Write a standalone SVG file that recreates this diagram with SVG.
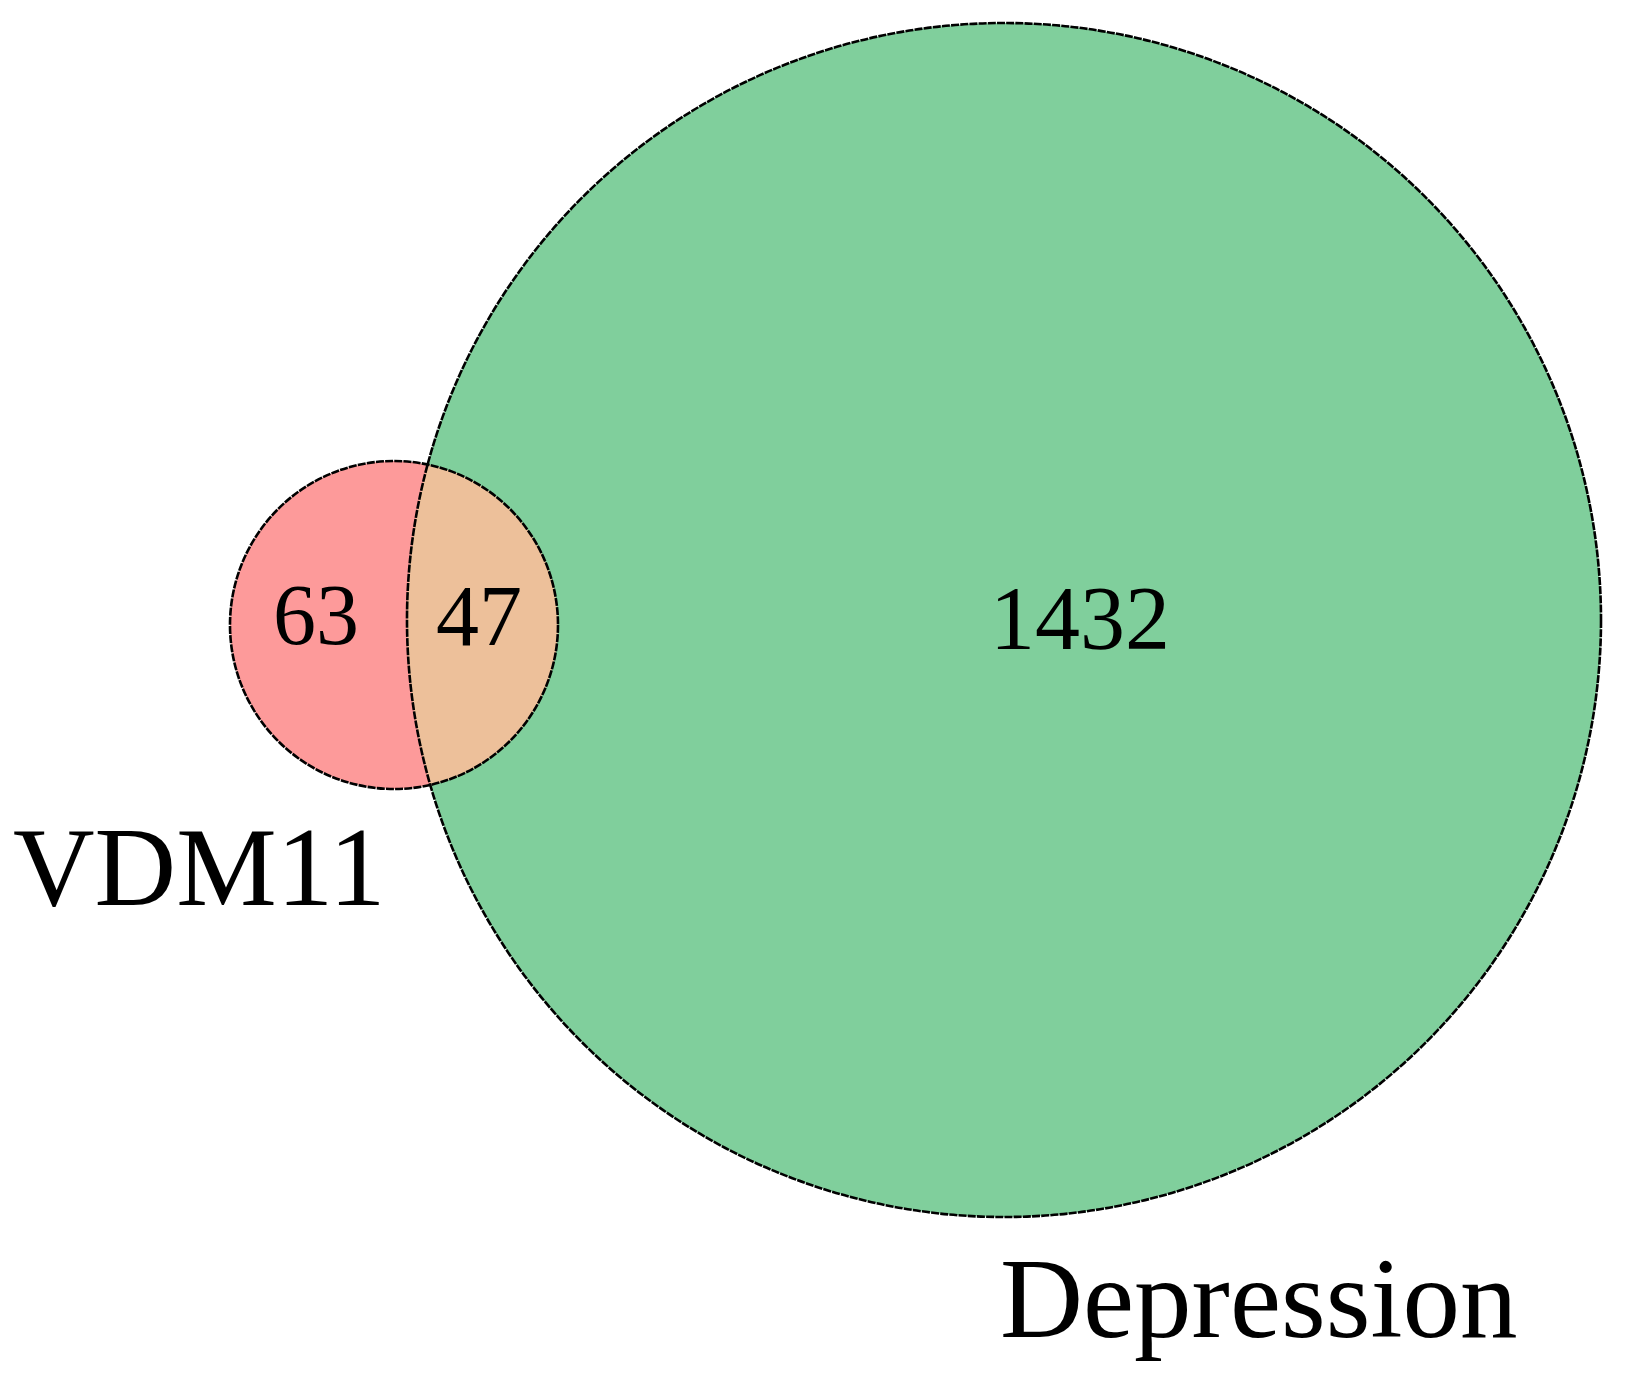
<svg xmlns="http://www.w3.org/2000/svg" width="1629" height="1383" viewBox="0 0 1629 1383">
<style>
.lbl{font-family:"Liberation Serif","Times New Roman",serif;fill:#000}
.edge{fill:none;stroke:#000;stroke-width:2.6;stroke-dasharray:8 1.2}
</style>
<defs>
<clipPath id="bigClip"><circle cx="1004" cy="620" r="597"/></clipPath>
</defs>
<rect width="1629" height="1383" fill="#fff"/>
<g id="depression">
<circle cx="1004" cy="620" r="597" fill="#80cf9c"/>
</g>
<g id="vdm11">
<circle cx="394" cy="625" r="164" fill="#fd9a9a"/>
</g>
<g id="overlap">
<circle cx="394" cy="625" r="164" fill="#edc09a" clip-path="url(#bigClip)"/>
</g>
<g id="connectors">
<circle class="edge" cx="1004" cy="620" r="597"/>
<circle class="edge" cx="394" cy="625" r="164"/>
</g>
<g id="labels">
<text class="lbl" x="316" y="644" font-size="86" text-anchor="middle">63</text>
<text class="lbl" x="479" y="645" font-size="86" text-anchor="middle">47</text>
<text class="lbl" x="1080" y="649" font-size="90" text-anchor="middle">1432</text>
<text class="lbl" x="13" y="905" font-size="113">VDM11</text>
<text class="lbl" x="1000" y="1337" font-size="115">Depression</text>
</g>
</svg>
